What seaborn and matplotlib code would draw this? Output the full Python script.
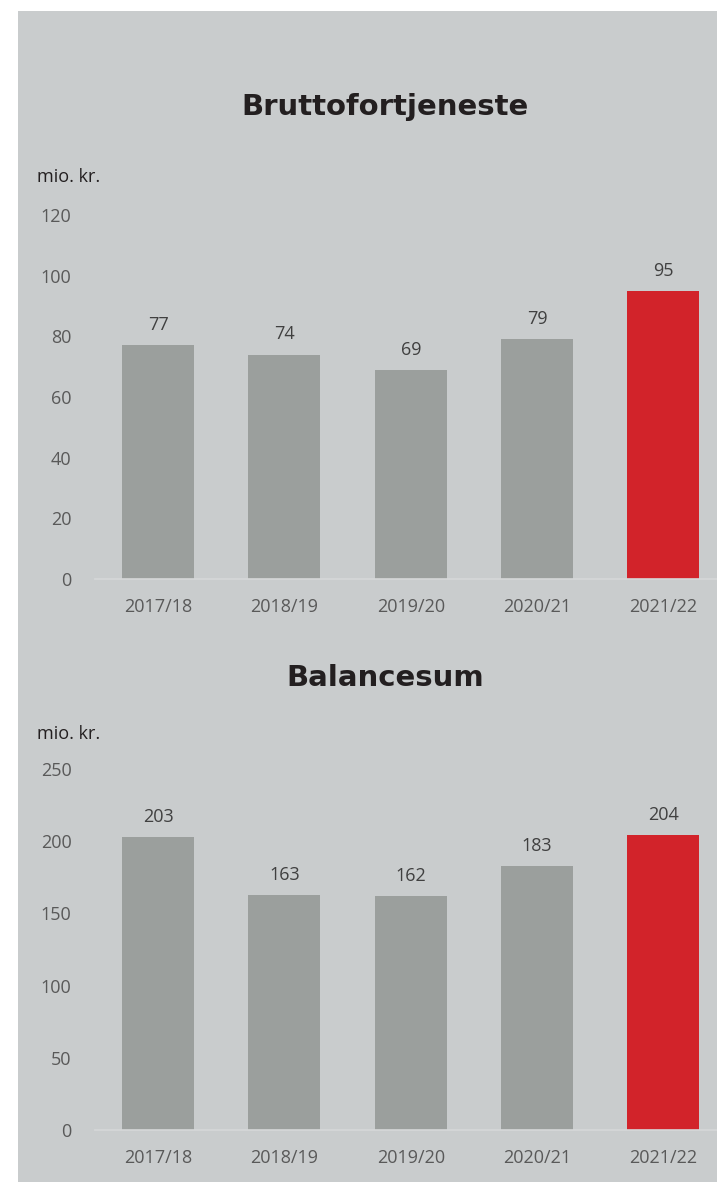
import matplotlib
matplotlib.use("Agg")
import matplotlib.pyplot as plt
import seaborn as sns
from matplotlib.patches import Rectangle

years = ["2017/18", "2018/19", "2019/20", "2020/21", "2021/22"]
brutto = [77, 74, 69, 79, 95]
balance = [203, 163, 162, 183, 204]
bar_colors = ["#9B9F9D", "#9B9F9D", "#9B9F9D", "#9B9F9D", "#D2232A"]

sns.set_theme(style="white")
plt.rcParams['font.family'] = ['Open Sans', 'DejaVu Sans']

W, H = 717, 1182
fig = plt.figure(figsize=(W / 100, H / 100), dpi=100, facecolor="white")
# grey panel behind both charts
fig.patches.append(Rectangle((18 / W, 0), 1 - 18 / W, 1 - 11 / H,
                             transform=fig.transFigure, facecolor="#C9CCCD",
                             edgecolor="none", zorder=-5))


def px_axes(top, bottom):
    return fig.add_axes([95 / W, 1 - bottom / H, (W - 95) / W, (bottom - top) / H])


def draw(ax, values, ymax, step, title, title_y, unit_y):
    sns.barplot(x=years, y=values, hue=years, palette=bar_colors, legend=False,
                width=0.57, saturation=1, linewidth=0, ax=ax)
    ax.set_facecolor("none")
    ax.set_xlim(-0.5, (W - 95) / 126.3 - 0.5)
    ax.set_ylim(0, ymax)
    ax.set_yticks(range(0, ymax + 1, step))
    ax.set_xlabel("")
    ax.set_ylabel("")
    for s in ["top", "right", "left"]:
        ax.spines[s].set_visible(False)
    ax.spines["bottom"].set_color("#D6D8D9")
    ax.spines["bottom"].set_linewidth(1.2)
    ax.tick_params(axis="x", length=0, pad=14, labelsize=13, labelcolor="#595959")
    ax.tick_params(axis="y", length=0, pad=17, labelsize=13, labelcolor="#595959")
    for c in ax.containers:
        ax.bar_label(c, fmt="%d", padding=8, fontsize=13, color="#404040")
    fig.text(385 / W, 1 - title_y / H, title, ha="center", va="baseline",
             fontsize=21, fontweight="bold", color="#231F20", family="DejaVu Sans")
    fig.text(37 / W, 1 - unit_y / H, "mio. kr.", ha="left", va="baseline",
             fontsize=13, color="#231F20")


ax1 = px_axes(215, 579)
draw(ax1, brutto, 120, 20, "Bruttofortjeneste", 115, 182)

ax2 = px_axes(769, 1130)
draw(ax2, balance, 250, 50, "Balancesum", 686, 739)

fig.savefig("out.png", dpi=100, facecolor="white")
